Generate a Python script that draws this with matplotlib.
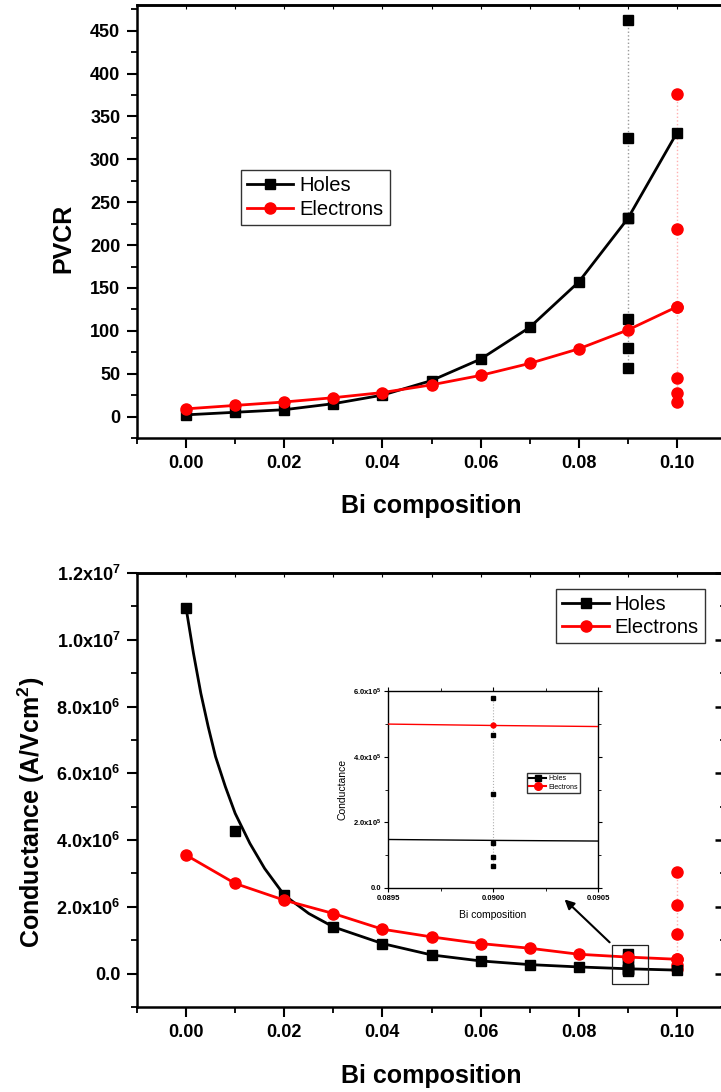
import matplotlib
matplotlib.use('Agg')
import matplotlib.pyplot as plt
from matplotlib.ticker import MultipleLocator, FuncFormatter
from matplotlib.lines import Line2D
from matplotlib.patches import Rectangle

plt.rcParams['font.family'] = ['Liberation Sans', 'DejaVu Sans']
plt.rcParams['mathtext.fontset'] = 'custom'
plt.rcParams['mathtext.rm'] = 'Liberation Sans:bold'
plt.rcParams['mathtext.it'] = 'Liberation Sans:bold'
plt.rcParams['mathtext.bf'] = 'Liberation Sans:bold'

# ---- data ----
bi = [0.00, 0.01, 0.02, 0.03, 0.04, 0.05, 0.06, 0.07, 0.08, 0.09, 0.10]

pvcr_holes = [2, 5, 8, 15, 25, 42, 67, 104, 157, 231, 331]
pvcr_electrons = [9, 13, 17, 22, 28, 37, 48, 62, 79, 101, 128]
pvcr_holes_at_009 = [462, 325, 231, 114, 80, 57]
pvcr_electrons_at_010 = [376, 219, 128, 45, 27, 17]

cond_holes = [1.095e7, 4.27e6, 2.35e6, 1.40e6, 9.0e5, 5.5e5, 3.8e5, 2.7e5, 2.0e5, 1.42e5, 1.05e5]
# the fitted holes curve, read at a few points
cond_holes_curve_x = [0.0, 0.0015, 0.003, 0.0045, 0.006, 0.008, 0.01, 0.013, 0.016, 0.02,
                      0.025, 0.03, 0.04, 0.05, 0.06, 0.07, 0.08, 0.09, 0.10]
cond_holes_curve = [1.095e7, 9.6e6, 8.4e6, 7.4e6, 6.5e6, 5.6e6, 4.8e6, 3.9e6, 3.15e6, 2.35e6,
                    1.8e6, 1.40e6, 9.0e5, 5.6e5, 3.8e5, 2.7e5, 2.0e5, 1.45e5, 1.05e5]
cond_electrons = [3.55e6, 2.7e6, 2.2e6, 1.8e6, 1.33e6, 1.1e6, 9.0e5, 7.6e5, 5.8e5, 4.95e5, 4.3e5]
cond_holes_at_009 = [5.8e5, 4.65e5, 2.87e5, 1.38e5, 9.5e4, 6.7e4]
cond_electrons_at_010 = [3.05e6, 2.05e6, 1.2e6, 4.3e5, 2.5e5, 1.5e5]

BLACK = '#000000'
RED = '#ff0000'

fig = plt.figure(figsize=(7.21, 10.92), dpi=100)


def style_main(ax):
    for s in ax.spines.values():
        s.set_linewidth(1.8)
    ax.tick_params(which='major', direction='out', length=7, width=1.5,
                   labelsize=13, pad=5)
    ax.tick_params(which='minor', direction='out', length=4, width=1.3)
    ax.tick_params(top=False, right=False)
    for lab in ax.get_xticklabels() + ax.get_yticklabels():
        lab.set_fontweight('bold')
    top = ax.secondary_xaxis('top')
    top.xaxis.set_major_locator(MultipleLocator(0.01))
    top.tick_params(direction='in', length=3, width=0.8, labeltop=False)
    top.spines['top'].set_linewidth(1.8)
    return top


# ---------------- top panel: PVCR ----------------
ax1 = fig.add_axes([137 / 721, 1 - 438 / 1092, 589 / 721, 433 / 1092])
ax1.plot([bi[9]] * len(pvcr_holes_at_009), pvcr_holes_at_009, ls=':', color='#9a9a9a',
         lw=1, marker='s', ms=6.5, mfc=BLACK, mec=BLACK, zorder=2)
ax1.plot([bi[10]] * len(pvcr_electrons_at_010), pvcr_electrons_at_010, ls=':',
         color='#ffb0b0', lw=1, marker='o', ms=8, mfc=RED, mec=RED, zorder=2)
ax1.plot(bi, pvcr_holes, '-s', color=BLACK, lw=2, ms=6.5, label='Holes', zorder=3)
ax1.plot(bi, pvcr_electrons, '-o', color=RED, lw=2, ms=8, label='Electrons', zorder=4)

ax1.set_xlim(-0.01, 0.11)
ax1.xaxis.set_major_locator(MultipleLocator(0.02))
ax1.xaxis.set_minor_locator(MultipleLocator(0.01))
ax1.xaxis.set_major_formatter(FuncFormatter(lambda v, p: f'{v:.2f}'))
ax1.yaxis.set_minor_locator(MultipleLocator(25))
ax1.set_yticks(range(0, 451, 50))
ax1.set_ylim(-25, 480)
style_main(ax1)
ax1.set_xlabel('Bi composition', fontsize=18, fontweight='bold', labelpad=16)
ax1.set_ylabel('PVCR', fontsize=18, fontweight='bold')
ax1.yaxis.set_label_coords(-0.104, 0.461)
ax1.legend(loc='upper left', bbox_to_anchor=(241 / 721, 1 - 170 / 1092),
           bbox_transform=fig.transFigure, fontsize=14.5, frameon=True, fancybox=False,
           edgecolor='#333333', framealpha=1, handlelength=2.3, handletextpad=0.3,
           labelspacing=0.25, borderpad=0.3, borderaxespad=0)

# ---------------- bottom panel: Conductance ----------------
ax2 = fig.add_axes([137 / 721, 1 - 1007 / 1092, 589 / 721, 434 / 1092])
ax2.plot([bi[9]] * len(cond_holes_at_009), cond_holes_at_009, ls=':', color='#9a9a9a',
         lw=1, marker='s', ms=6.5, mfc=BLACK, mec=BLACK, zorder=2)
ax2.plot([bi[10]] * len(cond_electrons_at_010), cond_electrons_at_010, ls=':',
         color='#ffb0b0', lw=1, marker='o', ms=8, mfc=RED, mec=RED, zorder=2)
ax2.plot(cond_holes_curve_x, cond_holes_curve, '-', color=BLACK, lw=2, zorder=3)
ax2.plot(bi, cond_holes, 's', color=BLACK, ms=6.5, zorder=3)
ax2.plot(bi, cond_electrons, '-o', color=RED, lw=2, ms=8, zorder=4)

ax2.set_xlim(-0.01, 0.11)
ax2.xaxis.set_major_locator(MultipleLocator(0.02))
ax2.xaxis.set_minor_locator(MultipleLocator(0.01))
ax2.xaxis.set_major_formatter(FuncFormatter(lambda v, p: f'{v:.2f}'))
ax2.yaxis.set_major_locator(MultipleLocator(2e6))
ax2.yaxis.set_minor_locator(MultipleLocator(1e6))


def sci_fmt(v, p):
    if abs(v) < 1e-9:
        return '0.0'
    e = int(f'{v:e}'.split('e')[1])
    m = v / 10 ** e
    return f'{m:.1f}x10$^{{{e}}}$'


ax2.yaxis.set_major_formatter(FuncFormatter(sci_fmt))
ax2.set_ylim(-1e6, 1.2e7)
style_main(ax2)
right = ax2.secondary_yaxis('right')
right.yaxis.set_major_locator(MultipleLocator(2e6))
right.yaxis.set_minor_locator(MultipleLocator(1e6))
right.tick_params(which='major', direction='in', length=8, width=1.8, labelright=False)
right.tick_params(which='minor', direction='in', length=4, width=1.2)
right.spines['right'].set_linewidth(1.8)
ax2.set_xlabel('Bi composition', fontsize=18, fontweight='bold', labelpad=17)
ax2.set_ylabel('Conductance (A/Vcm$^2$)', fontsize=18, fontweight='bold')
ax2.yaxis.set_label_coords(-0.153, 0.449)

holes_h = Line2D([], [], color=BLACK, lw=2, marker='s', ms=6.5)
elec_h = Line2D([], [], color=RED, lw=2, marker='o', ms=8)
ax2.legend([holes_h, elec_h], ['Holes', 'Electrons'], loc='upper right',
           bbox_to_anchor=(705 / 721, 1 - 589 / 1092), bbox_transform=fig.transFigure,
           fontsize=14.5, frameon=True, fancybox=False, edgecolor='#333333',
           framealpha=1, handlelength=2.3, handletextpad=0.3, labelspacing=0.2,
           borderpad=0.3, borderaxespad=0)

# zoom box + arrow
ax2.add_patch(Rectangle((0.0867, -3.0e5), 0.0074, 1.17e6, fill=False,
                        edgecolor='#222222', lw=0.9, zorder=5))
ax2.annotate('', xy=(0.0767, 2.28e6), xytext=(0.0867, 8.8e5),
             arrowprops=dict(arrowstyle='-|>', color=BLACK, lw=1.5, mutation_scale=14),
             zorder=5)

# ---------------- inset ----------------
ins = fig.add_axes([388 / 721, 1 - 888 / 1092, 210 / 721, 197 / 1092])
ins.plot([bi[9]] * len(cond_holes_at_009), cond_holes_at_009, ls=':', color='#b0b0b0',
         lw=0.8, marker='s', ms=3, mfc=BLACK, mec=BLACK, zorder=2)
ins.plot(cond_holes_curve_x, cond_holes_curve, '-', color=BLACK, lw=1, zorder=3)
ins.plot(bi, cond_electrons, '-o', color=RED, lw=1, ms=3.5, zorder=4)
ins.set_xlim(0.0895, 0.0905)
ins.set_ylim(0, 6e5)
ins.set_xticks([0.0895, 0.0900, 0.0905])
ins.xaxis.set_minor_locator(MultipleLocator(0.00025))
ins.xaxis.set_major_formatter(FuncFormatter(lambda v, p: f'{v:.4f}'))
ins.yaxis.set_major_locator(MultipleLocator(2e5))
ins.yaxis.set_minor_locator(MultipleLocator(1e5))
ins.yaxis.set_major_formatter(FuncFormatter(sci_fmt))
for s in ins.spines.values():
    s.set_linewidth(1.0)
ins.tick_params(which='major', direction='out', length=3, width=0.8, labelsize=5.5, pad=2)
ins.tick_params(which='minor', direction='out', length=2, width=0.6)
ins.tick_params(which='both', top=True, right=True)
for lab in ins.get_xticklabels() + ins.get_yticklabels():
    lab.set_fontweight('bold')
ins.set_xlabel('Bi composition', fontsize=7.5, labelpad=6)
ins.set_ylabel('Conductance', fontsize=7.5, labelpad=4)
ih = Line2D([], [], color=BLACK, lw=1.5, marker='s', ms=5)
ie = Line2D([], [], color=RED, lw=1.5, marker='o', ms=5.5)
ins.legend([ih, ie], ['Holes', 'Electrons'], loc='upper left',
           bbox_to_anchor=(527 / 721, 1 - 773 / 1092), bbox_transform=fig.transFigure,
           fontsize=5, frameon=True, fancybox=False, edgecolor='#333333', framealpha=1,
           handlelength=2.5, handletextpad=0.3, labelspacing=0.25, borderpad=0.3,
           borderaxespad=0)

fig.savefig('out.png', dpi=100)
